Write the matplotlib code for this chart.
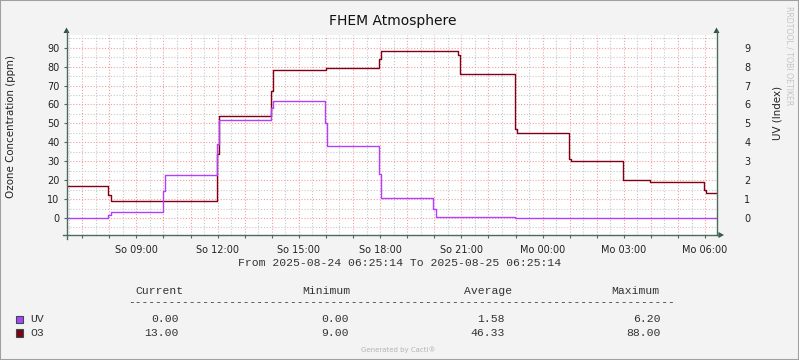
import matplotlib
matplotlib.use('Agg')
import matplotlib.pyplot as plt
import matplotlib.dates as mdates
import matplotlib.ticker as mticker
import pandas as pd
from matplotlib.lines import Line2D
from matplotlib.patches import Polygon, Rectangle

W, H = 799, 360

t_start = pd.Timestamp('2025-08-24 06:25:14')
t_end = pd.Timestamp('2025-08-25 06:25:14')

# O3 (ppm), step samples
o3_times = pd.to_datetime([
    '2025-08-24 06:25:14', '2025-08-24 07:58', '2025-08-24 08:03',
    '2025-08-24 11:58', '2025-08-24 12:03', '2025-08-24 13:58',
    '2025-08-24 14:03', '2025-08-24 16:00', '2025-08-24 17:58',
    '2025-08-24 18:03', '2025-08-24 20:53', '2025-08-24 20:58',
    '2025-08-24 22:58', '2025-08-24 23:03', '2025-08-25 00:58',
    '2025-08-25 01:03', '2025-08-25 02:58', '2025-08-25 03:58',
    '2025-08-25 05:58', '2025-08-25 06:03', '2025-08-25 06:25:14'],
    format='ISO8601')
o3_values = [17, 12, 9, 34, 54, 67, 78, 79, 84, 88, 86, 76, 47, 45, 31, 30,
             20, 19, 15, 13, 13]

# UV index
uv_times = pd.to_datetime([
    '2025-08-24 06:25:14', '2025-08-24 07:58', '2025-08-24 08:03',
    '2025-08-24 09:58', '2025-08-24 10:03', '2025-08-24 11:58',
    '2025-08-24 12:03', '2025-08-24 13:58', '2025-08-24 14:03',
    '2025-08-24 15:58', '2025-08-24 16:03', '2025-08-24 17:58',
    '2025-08-24 18:03', '2025-08-24 19:58', '2025-08-24 20:03',
    '2025-08-24 22:58', '2025-08-25 06:25:14'], format='ISO8601')
uv_values = [0, 0.15, 0.32, 1.4, 2.29, 3.9, 5.2, 5.8, 6.2, 5.0, 3.83, 2.3,
             1.06, 0.5, 0.05, 0.0, 0.0]

legend_names = ['UV', 'O3']
legend_colors = ['#B040FF', '#800018']
stat_headers = ['Current', 'Minimum', 'Average', 'Maximum']
stat_rows = [['0.00', '0.00', '1.58', '6.20'],
             ['13.00', '9.00', '46.33', '88.00']]

day_names = {6: 'So', 0: 'Mo', 1: 'Di', 2: 'Mi', 3: 'Do', 4: 'Fr', 5: 'Sa'}

axis_col = '#4B6B5E'
mono = 'Liberation Mono'


def px(x, y):
    return x / W, 1 - y / H


fig = plt.figure(figsize=(W / 100, H / 100), dpi=100, facecolor='#F3F3F3')

x0, x1, y0, y1 = 66.5, 716.5, 35, 235
ax = fig.add_axes([x0 / W, 1 - y1 / H, (x1 - x0) / W, (y1 - y0) / H])
ax.set_facecolor('white')
ax2 = ax.twinx()

ax.set_xlim(t_start, t_end)
ax.set_ylim(-9, 96.7)
ax2.set_ylim(-0.9, 9.67)

ax.step(o3_times, o3_values, where='post', color=legend_colors[1], lw=1.0,
        zorder=3)
ax2.step(uv_times, uv_values, where='post', color=legend_colors[0], lw=1.0,
         zorder=3)


def fmt_time(x, pos):
    d = mdates.num2date(x)
    if d.hour % 3 != 0:
        return ''
    return f'{day_names[d.weekday()]} {d:%H:%M}'


ax.xaxis.set_major_locator(mdates.HourLocator(interval=1))
ax.xaxis.set_minor_locator(mdates.MinuteLocator(byminute=[30]))
ax.xaxis.set_major_formatter(mticker.FuncFormatter(fmt_time))
ax.yaxis.set_major_locator(mticker.MultipleLocator(10))
ax.yaxis.set_minor_locator(mticker.MultipleLocator(5))
ax2.yaxis.set_major_locator(mticker.MultipleLocator(1))

ax.grid(True, which='major', color='#F2A0A0', lw=0.8, ls=(0, (1, 1.6)))
ax.grid(True, which='minor', color='#C8C8C8', lw=0.8, ls=(0, (1, 1.6)))
ax.set_axisbelow(True)

for a in (ax, ax2):
    for s in a.spines.values():
        s.set_visible(False)

ax.tick_params(axis='x', which='major', length=2, width=0.8, color=axis_col,
               labelsize=7, labelcolor='#222222', pad=5)
ax.tick_params(axis='x', which='minor', length=0)
ax.tick_params(axis='y', which='major', length=2, width=0.8, color=axis_col,
               labelsize=7, labelcolor='#222222', pad=3)
ax.tick_params(axis='y', which='minor', length=0)
ax2.tick_params(axis='y', length=0, labelsize=7, labelcolor='#222222',
                pad=20)

# axis lines with arrows
fig.add_artist(Line2D([px(x0, 0)[0], px(x0, 0)[0]],
                      [px(0, 239)[1], px(0, 31)[1]], color=axis_col, lw=1))
fig.add_artist(Line2D([px(x1, 0)[0], px(x1, 0)[0]],
                      [px(0, 235)[1], px(0, 31)[1]], color=axis_col, lw=1))
fig.add_artist(Line2D([px(62.5, 0)[0], px(720, 0)[0]],
                      [px(0, y1)[1], px(0, y1)[1]], color=axis_col, lw=1))
for pts in ([(x0, 27.5), (x0 - 3, 33), (x0 + 3, 33)],
            [(x1, 27.5), (x1 - 3, 33), (x1 + 3, 33)],
            [(724, y1), (718.5, y1 - 3), (718.5, y1 + 3)]):
    fig.add_artist(Polygon([px(*p) for p in pts], closed=True,
                           facecolor='#2F5244', edgecolor='none'))

fig.text(*px(393, 21), 'FHEM Atmosphere', ha='center', va='center',
         fontsize=10, color='#111111')
fig.text(*px(11, 126), 'Ozone Concentration (ppm)', rotation=90,
         ha='center', va='center', fontsize=7.4, color='#222222')
fig.text(*px(777, 113), 'UV (Index)', rotation=90,
         ha='center', va='center', fontsize=7.4, color='#222222')
fig.text(*px(789, 56), 'RRDTOOL / TOBI OETIKER', rotation=-90,
         ha='center', va='center', fontsize=5.6, color='#C4C4C4')

fig.text(*px(400, 263), 'From 2025-08-24 06:25:14 To 2025-08-25 06:25:14',
         ha='center', va='center', fontsize=8.2, family=mono,
         color='#333333')

header_left = [135, 302, 464, 611]
value_right = [178.5, 348.5, 504.5, 660.5]
for hx, name in zip(header_left, stat_headers):
    fig.text(*px(hx, 290.5), name, ha='left', va='center', fontsize=8.2,
             family=mono, color='#333333')
fig.text(*px(128, 302), '-' * 81, ha='left', va='center', fontsize=8.1,
         family=mono, color='#333333')

row_y = [319, 332.5]
for ry, name, col, vals in zip(row_y, legend_names, legend_colors, stat_rows):
    fig.add_artist(Rectangle(px(15.5, ry + 4), 7.5 / W, 7.5 / H,
                             facecolor=col, edgecolor='#2F5244', lw=0.8))
    fig.text(*px(30, ry), name, ha='left', va='center', fontsize=8.2,
             family=mono, color='#333333')
    for vx, v in zip(value_right, vals):
        fig.text(*px(vx, ry), v, ha='right', va='center', fontsize=8.2,
                 family=mono, color='#333333')

fig.text(*px(398, 350), 'Generated by Cacti®', ha='center', va='center',
         fontsize=5, color='#B4B4B4')

fig.add_artist(Rectangle((0, 0), 1, 1, transform=fig.transFigure,
                         facecolor='none', edgecolor='#A0A0A0', lw=1.5))

fig.savefig('out.png', dpi=100, facecolor=fig.get_facecolor())
